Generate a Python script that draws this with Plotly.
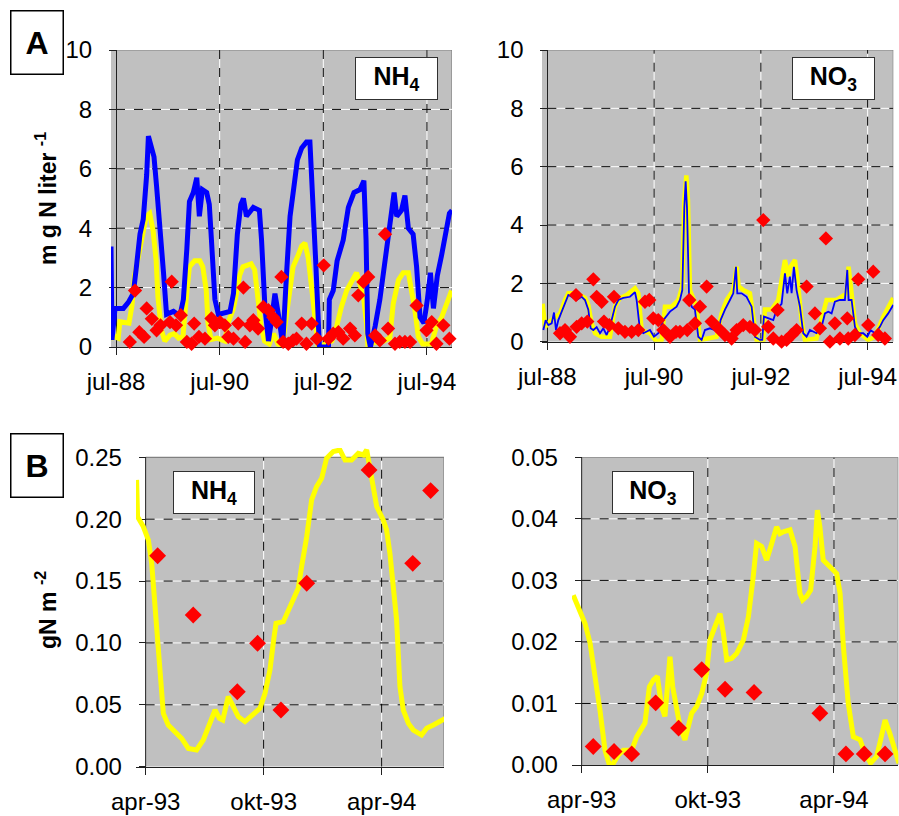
import plotly.graph_objects as go

# ---------------- Panel A : concentrations (x = months since jul-88) ----------------
A_XTICKS = [0, 24, 48, 72]
A_XLABELS = ["jul-88", "jul-90", "jul-92", "jul-94"]
A_YTICKS = [0, 2, 4, 6, 8, 10]

nh4_blue = [(-1.16, 3.38), (-0.93, 0.24), (-0.23, 1.3), (1.7, 1.3), (2.85, 1.5), (4.0, 1.8), (4.8, 2.8),
            (5.55, 3.8), (6.3, 4.3), (7.1, 5.8), (7.5, 7.1), (8.3, 6.6), (8.8, 6.4), (9.4, 5.4), (10.2, 4.1),
            (11.0, 2.5), (11.7, 1.1), (13.3, 1.2), (14.8, 1.05), (15.6, 1.6), (16.4, 3.3), (17.0, 4.9),
            (17.9, 5.2), (18.7, 5.7), (19.3, 4.4), (20.0, 5.3), (21.0, 5.2), (21.6, 4.8), (22.1, 3.6),
            (22.9, 1.6), (23.7, 1.1), (26.4, 1.2), (27.2, 1.8), (28.1, 3.8), (28.9, 4.8), (29.5, 5.0),
            (30.2, 4.4), (31.8, 4.7), (33.2, 4.6), (33.7, 3.6), (34.5, 1.3), (35.3, 0.2), (36.0, 0.9),
            (36.8, 1.8), (37.6, 1.1), (38.6, 0.1), (39.5, 2.5), (40.3, 4.4), (41.2, 5.4), (42.0, 6.3),
            (43.0, 6.7), (44.1, 6.9), (44.9, 6.9), (45.5, 5.4), (46.3, 2.7), (47.1, 0.0), (49.2, 0.0),
            (49.4, 1.6), (50.3, 1.9), (51.2, 2.9), (52.6, 3.6), (53.8, 4.7), (55.1, 5.2), (56.5, 5.3),
            (57.4, 5.6), (57.9, 3.6), (58.3, 0.45), (58.9, 0.0), (60.0, 0.7), (61.1, 1.6), (62.3, 2.9),
            (63.4, 4.0), (64.4, 5.2), (65.0, 4.4), (66.1, 4.6), (66.9, 5.1), (67.7, 4.0), (68.8, 3.8),
            (69.6, 2.7), (70.4, 1.0), (71.3, 0.8), (72.1, 1.6), (72.8, 2.5), (73.5, 1.3), (74.4, 2.4),
            (75.4, 3.1), (76.4, 4.0), (77.2, 4.5), (77.8, 4.6)]

nh4_yellow = [(-1.16, 0.3), (-0.3, 0.35), (0.5, 0.3), (0.9, 0.85), (3.0, 0.8), (3.7, 1.4), (4.3, 2.4),
              (5.9, 3.7), (7.0, 4.4), (7.8, 4.5), (8.6, 3.9), (9.3, 2.9), (9.7, 1.7), (10.5, 0.57),
              (11.3, 0.2), (12.5, 0.4), (13.5, 0.45), (14.5, 0.3), (15.5, 0.35), (16.3, 1.7), (17.0, 2.7),
              (18.2, 2.9), (19.4, 2.9), (20.1, 2.7), (20.9, 1.9), (21.3, 0.8), (22.0, 0.25), (23.5, 0.3),
              (25.2, 0.2), (25.9, 0.8), (27.1, 1.25), (27.9, 1.8), (28.6, 2.4), (29.4, 2.7), (31.3, 2.8),
              (32.1, 2.6), (32.9, 1.7), (33.6, 0.7), (34.4, 0.2), (35.5, 0.1), (36.5, 0.45), (37.5, 0.1),
              (38.5, 0.05), (39.5, 1.0), (40.3, 1.8), (41.0, 2.7), (42.2, 3.1), (43.0, 3.4), (43.75, 3.5),
              (44.5, 3.0), (45.3, 2.0), (46.1, 0.9), (46.8, 0.0), (48.5, 0.1), (50.0, 0.2), (51.1, 0.7),
              (52.2, 1.36), (53.4, 1.9), (54.6, 2.26), (55.7, 2.5), (56.5, 2.1), (57.3, 1.7), (58.0, 0.8),
              (58.3, 0.1), (60.0, 0.15), (62.0, 0.2), (63.4, 0.3), (64.2, 1.47), (65.4, 2.26), (66.5, 2.5),
              (67.7, 2.5), (68.4, 2.0), (69.2, 1.25), (70.0, 0.35), (71.0, 0.1), (73.0, 0.1), (74.2, 0.7),
              (75.4, 1.0), (76.5, 1.47), (77.7, 1.9)]

nh4_obs = [(3.2, 0.17), (4.4, 1.9), (5.4, 0.5), (6.5, 0.34), (7.1, 1.3), (8.3, 0.95), (9.4, 0.56),
           (10.3, 0.73), (12.9, 2.2), (12.5, 0.84), (13.9, 0.73), (15.0, 1.07), (16.4, 0.17), (17.5, 0.11),
           (18.1, 0.79), (19.2, 0.34), (20.6, 0.28), (22.1, 0.96), (22.9, 0.73), (24.1, 0.84), (25.2, 0.73),
           (26.0, 0.34), (27.2, 0.28), (28.3, 0.79), (29.5, 2.0), (29.9, 0.17), (31.0, 0.73), (31.8, 0.9),
           (32.9, 0.62), (34.1, 1.35), (35.3, 1.24), (36.4, 1.0), (37.2, 0.84), (38.3, 2.36), (38.7, 0.17),
           (39.9, 0.11), (41.0, 0.22), (41.8, 0.28), (43.0, 0.79), (44.1, 0.11), (45.3, 0.79), (46.5, 0.28),
           (48.1, 2.75), (49.2, 0.28), (50.3, 0.45), (51.5, 0.5), (52.6, 0.28), (54.2, 0.62), (55.3, 0.39),
           (56.1, 1.74), (57.3, 2.19), (58.4, 2.36), (60.0, 0.39), (61.1, 0.22), (62.3, 3.8), (63.0, 0.62),
           (64.6, 0.11), (65.7, 0.17), (66.9, 0.17), (68.1, 0.17), (69.6, 1.4), (71.9, 0.56), (73.1, 0.84),
           (74.2, 0.11), (75.8, 0.73), (77.2, 0.28)]

no3_blue = [(-0.9, 0.4), (-0.37, 0.74), (0.22, 0.57), (0.97, 0.63), (1.5, 1.0), (1.95, 0.4), (2.47, 0.74),
            (3.22, 1.03), (3.97, 1.3), (4.72, 1.6), (5.47, 1.54), (6.59, 1.43), (7.72, 1.54), (8.46, 1.43),
            (9.21, 1.1), (9.74, 0.46), (10.34, 0.4), (11.09, 0.5), (11.84, 0.29), (12.58, 0.46), (13.33, 0.23),
            (14.08, 0.51), (15.2, 1.2), (15.96, 1.43), (17.08, 1.5), (18.58, 1.54), (19.7, 1.7), (20.07, 1.43),
            (20.82, 0.4), (21.57, 0.29), (23.07, 0.4), (23.97, 0.17), (24.94, 0.29), (26.07, 0.74),
            (27.57, 1.03), (29.06, 1.2), (29.81, 1.43), (30.34, 1.77), (30.79, 4.6), (31.09, 5.5),
            (31.39, 4.6), (31.84, 1.66), (32.43, 1.2), (33.18, 1.1), (33.93, 0.17), (34.68, 0.06),
            (35.43, 0.4), (36.55, 0.46), (37.68, 0.4), (38.43, 0.29), (38.95, 0.74), (39.93, 1.1),
            (41.05, 1.43), (41.8, 1.66), (42.4, 2.57), (42.7, 1.66), (43.67, 1.66), (44.79, 1.54),
            (45.92, 1.2), (46.67, 0.17), (47.79, 0.06), (48.31, 0.06), (48.69, 0.86), (49.66, 0.8),
            (50.79, 0.74), (51.54, 1.1), (52.66, 1.3), (53.41, 2.34), (53.93, 1.66), (54.53, 2.23),
            (54.91, 1.66), (55.43, 2.57), (56.03, 1.77), (56.78, 1.2), (57.53, 0.29), (58.28, 0.17),
            (59.03, 0.4), (60.52, 0.29), (61.65, 0.51), (62.4, 0.97), (63.15, 1.03), (63.9, 0.97),
            (64.64, 1.37), (65.77, 1.43), (66.89, 1.43), (67.42, 2.46), (67.72, 1.43), (68.39, 1.43),
            (69.14, 0.51), (69.89, 0.29), (71.01, 0.29), (71.91, 0.17), (72.66, 0.4), (73.63, 0.29),
            (74.76, 0.51), (75.51, 0.74), (76.63, 0.97), (77.75, 1.26)]

no3_yellow = [(-1.05, 1.3), (-0.52, 0.5), (0.6, 0.7), (1.72, 0.86), (2.85, 0.97), (3.97, 1.43), (4.72, 1.66),
              (5.84, 1.66), (7.34, 1.6), (8.46, 1.5), (9.21, 1.26), (9.96, 0.63), (10.71, 0.29), (12.21, 0.17),
              (14.08, 0.17), (15.2, 1.2), (16.33, 1.5), (17.83, 1.6), (19.7, 1.83), (20.45, 1.66), (21.2, 0.4),
              (23.07, 0.29), (24.57, 0.0), (25.69, 0.06), (26.44, 1.2), (27.94, 1.2), (29.44, 1.43),
              (30.34, 1.9), (30.79, 4.86), (31.24, 5.7), (31.61, 4.86), (32.06, 1.77), (32.81, 1.43),
              (33.56, 1.2), (34.31, 0.06), (35.81, 0.11), (38.05, 0.17), (39.18, 0.97), (40.3, 1.43),
              (41.8, 1.77), (42.55, 2.57), (43.0, 1.9), (44.04, 1.77), (45.54, 1.66), (46.29, 0.74),
              (47.04, 0.06), (48.54, 0.0), (48.91, 1.1), (50.41, 1.1), (51.91, 1.43), (53.41, 2.8),
              (54.16, 2.23), (54.68, 2.57), (55.66, 2.8), (56.4, 1.9), (57.15, 0.74), (57.9, 0.06),
              (60.52, 0.11), (62.77, 1.43), (65.02, 1.43), (67.27, 1.66), (67.72, 2.57), (68.39, 1.66),
              (69.14, 0.63), (70.26, 0.29), (72.13, 0.06), (73.63, 0.17), (75.51, 0.86), (77.75, 1.5)]

no3_obs = [(2.85, 0.29), (3.97, 0.4), (5.09, 0.17), (6.44, 1.6), (6.59, 0.51), (7.72, 0.63), (8.99, 0.69),
           (10.34, 2.14), (11.09, 1.54), (12.21, 1.37), (12.73, 0.69), (13.93, 0.57), (14.98, 1.54),
           (15.96, 0.46), (17.45, 0.34), (18.95, 0.34), (20.45, 0.4), (21.95, 1.37), (22.92, 1.43),
           (23.82, 0.8), (24.94, 0.74), (26.07, 0.4), (27.57, 0.17), (28.91, 0.34), (29.81, 0.34),
           (31.46, 0.4), (31.91, 1.43), (33.18, 0.63), (34.31, 1.2), (35.81, 1.89), (36.93, 0.69),
           (38.43, 0.46), (39.93, 0.23), (41.42, 0.11), (42.55, 0.4), (44.04, 0.57), (45.54, 0.51),
           (46.67, 0.4), (48.54, 4.17), (49.66, 0.51), (50.79, 0.11), (51.76, 1.09), (52.66, 0.0),
           (53.78, 0.06), (54.91, 0.23), (56.03, 0.4), (58.28, 1.89), (60.15, 0.97), (61.27, 0.46),
           (62.62, 3.54), (63.52, 0.0), (64.64, 0.63), (65.77, 0.11), (67.42, 0.8), (67.64, 0.11),
           (69.14, 0.23), (69.89, 2.14), (72.13, 0.57), (73.26, 2.4), (74.38, 0.23), (75.88, 0.11)]

# ---------------- Panel B : pools (x = months since apr-93) ----------------
B_XTICKS = [0, 6, 12]
B_XLABELS = ["apr-93", "okt-93", "apr-94"]
B1_YTICKS = [0.0, 0.05, 0.10, 0.15, 0.20, 0.25]
B2_YTICKS = [0.0, 0.01, 0.02, 0.03, 0.04, 0.05]

b_nh4_yellow = [(-0.46, 0.2317), (-0.41, 0.202), (-0.12, 0.194), (0.14, 0.183), (0.31, 0.164), (0.47, 0.132),
                (0.64, 0.0916), (0.9, 0.0431), (1.15, 0.0337), (1.49, 0.0283), (1.83, 0.0229), (2.17, 0.0148),
                (2.59, 0.0135), (2.93, 0.0216), (3.19, 0.0323), (3.53, 0.0458), (3.75, 0.0391), (3.92, 0.0377),
                (4.2, 0.0566), (4.46, 0.0485), (4.71, 0.0404), (5.05, 0.0364), (5.47, 0.0418), (5.81, 0.0471),
                (6.07, 0.0593), (6.32, 0.0781), (6.53, 0.105), (6.63, 0.1158), (7.0, 0.1172), (7.34, 0.1293),
                (7.51, 0.1374), (7.76, 0.1441), (7.93, 0.1616), (8.19, 0.1859), (8.44, 0.2155), (8.69, 0.2263),
                (8.95, 0.233), (9.2, 0.2492), (9.54, 0.2546), (9.88, 0.2559), (10.14, 0.2478), (10.47, 0.2478),
                (10.81, 0.2532), (11.07, 0.2519), (11.24, 0.2559), (11.49, 0.2317), (11.75, 0.2101),
                (12.08, 0.1994), (12.25, 0.1913), (12.42, 0.1724), (12.59, 0.1455), (12.76, 0.1185),
                (12.93, 0.0647), (13.1, 0.0458), (13.36, 0.035), (13.61, 0.0296), (14.03, 0.0256),
                (14.29, 0.031), (14.63, 0.0337), (14.97, 0.0364), (15.22, 0.0391), (15.39, 0.0404)]

b_nh4_obs = [(0.61, 0.1705), (2.42, 0.1226), (4.66, 0.0606), (5.69, 0.0997), (6.88, 0.0458), (8.19, 0.1482),
             (11.36, 0.2398), (13.58, 0.1643), (14.49, 0.2231)]

b_no3_yellow = [(-0.40, 0.0276), (-0.08, 0.0252), (0.16, 0.0230), (0.40, 0.0198), (0.63, 0.0149), (0.87, 0.0089),
                (1.11, 0.0024), (1.32, 0.0), (1.51, 0.0003), (1.74, 0.0016), (1.98, 0.0024), (2.38, 0.0024),
                (2.62, 0.0046), (3.01, 0.0068), (3.22, 0.0127), (3.41, 0.0138), (3.60, 0.0144), (3.80, 0.0095),
                (3.96, 0.0079), (4.07, 0.0116), (4.20, 0.0176), (4.33, 0.0127), (4.52, 0.0089), (4.68, 0.0062),
                (4.91, 0.0041), (5.07, 0.0062), (5.23, 0.0084), (5.47, 0.0095), (5.71, 0.0116), (5.94, 0.0149),
                (6.10, 0.0203), (6.34, 0.0225), (6.58, 0.0246), (6.74, 0.0214), (6.90, 0.0171), (7.13, 0.0173),
                (7.37, 0.0181), (7.69, 0.0203), (7.93, 0.0241), (8.16, 0.0306), (8.32, 0.0360), (8.56, 0.0355),
                (8.80, 0.0333), (9.04, 0.0360), (9.27, 0.0387), (9.43, 0.0376), (9.59, 0.0379), (9.91, 0.0382),
                (10.15, 0.0355), (10.38, 0.0279), (10.51, 0.0268), (10.70, 0.0274), (10.89, 0.0284),
                (11.10, 0.0355), (11.21, 0.0414), (11.33, 0.0387), (11.49, 0.0333), (11.81, 0.0322),
                (12.13, 0.0311), (12.29, 0.0279), (12.45, 0.0192), (12.68, 0.0100), (12.92, 0.0046),
                (13.24, 0.0041), (13.47, 0.0019), (13.74, 0.0003), (14.03, 0.0014), (14.22, 0.0041),
                (14.43, 0.0073), (14.66, 0.0051), (14.90, 0.0024), (15.09, 0.0003)]

b_no3_obs = [(0.55, 0.0030), (1.54, 0.0022), (2.38, 0.0018), (3.52, 0.0101), (4.61, 0.0060), (5.71, 0.0155),
             (6.82, 0.0123), (8.20, 0.0118), (11.33, 0.0084), (12.57, 0.0018), (13.44, 0.0018), (14.43, 0.0018)]

# ---------------- styling ----------------
W, H = 899, 816
FONT = "Arial, 'Liberation Sans', sans-serif"
BLUE, YELLOW, RED = "#0000FF", "#FFFF00", "#FF0000"
GRAY, BORDER, AXC = "#C0C0C0", "#808080", "#202020"


def px(v):
    return v / W


def py(v):
    return 1 - v / H


def xy(pairs):
    return [p[0] for p in pairs], [p[1] for p in pairs]


fig = go.Figure()


def line(pairs, color, width, ax):
    x, y = xy(pairs)
    fig.add_trace(go.Scatter(x=x, y=y, mode="lines", line=dict(color=color, width=width),
                             xaxis="x" + ax, yaxis="y" + ax, hoverinfo="skip", showlegend=False))


def dots(pairs, size, ax):
    x, y = xy(pairs)
    fig.add_trace(go.Scatter(x=x, y=y, mode="markers",
                             marker=dict(symbol="diamond", size=size, color=RED, line=dict(width=0)),
                             xaxis="x" + ax, yaxis="y" + ax, hoverinfo="skip", showlegend=False,
                             cliponaxis=False))


line(nh4_yellow, YELLOW, 5, "")
line(nh4_blue, BLUE, 5, "")
dots(nh4_obs, 11, "")
line(no3_yellow, YELLOW, 4.5, "2")
line(no3_blue, BLUE, 1.8, "2")
dots(no3_obs, 11, "2")
line(b_nh4_yellow, YELLOW, 5, "3")
dots(b_nh4_obs, 13, "3")
line(b_no3_yellow, YELLOW, 5, "4")
dots(b_no3_obs, 13, "4")

# panel geometry (pixels)
A1 = dict(x0=111.0, x1=452.0, axis=116.0, top=50.0, bot=347.0, rng=[-1.16, 77.8], yr=[0, 10])
A2 = dict(x0=542.0, x1=893.3, axis=547.3, top=50.0, bot=341.7, rng=[-1.2, 77.77], yr=[0, 10])
B1 = dict(x0=136.0, x1=444.0, axis=145.7, top=448.0, bot=766.7, rng=[-0.49, 15.17], yr=[0, 0.2575])
B2 = dict(x0=572.0, x1=898.3, axis=581.7, top=457.3, bot=765.0, rng=[-0.46, 15.06], yr=[0, 0.05])

tickfont = dict(family=FONT, size=24, color="black")


def axes(key, g, xticks, xlabels, yticks, yfmt, yline):
    fig.layout["xaxis" + key] = dict(
        domain=[px(g["x0"]), px(g["x1"])], range=g["rng"], anchor="y" + key, automargin=False,
        tickmode="array", tickvals=xticks, ticktext=xlabels, ticks="outside", ticklen=7,
        tickcolor=AXC, showline=True, linecolor=AXC, linewidth=1, showgrid=False, zeroline=False,
        tickfont=tickfont, layer="below traces", fixedrange=True, ticklabelstandoff=6)
    fig.layout["yaxis" + key] = dict(
        domain=[py(g["bot"]), py(g["top"])], range=g["yr"], anchor="free", position=px(g["axis"]),
        automargin=False,
        tickmode="array", tickvals=yticks, tickformat=yfmt, ticks="outside", ticklen=7,
        tickcolor=AXC, showline=yline, linecolor=AXC, linewidth=1, showgrid=False, zeroline=False,
        tickfont=tickfont, layer="below traces", fixedrange=True, ticklabelstandoff=12)


axes("", A1, A_XTICKS, A_XLABELS, A_YTICKS, "d", True)
axes("2", A2, A_XTICKS, A_XLABELS, A_YTICKS, "d", True)
axes("3", B1, B_XTICKS, B_XLABELS, B1_YTICKS, ".2f", False)
axes("4", B2, B_XTICKS, B_XLABELS, B2_YTICKS, ".2f", False)

shapes = []


def panel_shapes(key, xa, xb, ya, yb, xticks, yticks, yaxis_line):
    xr, yr = "x" + key, "y" + key
    shapes.append(dict(type="rect", xref=xr, yref=yr, x0=xa, x1=xb, y0=ya, y1=yb,
                       fillcolor=GRAY, line=dict(width=0), layer="below"))
    # top and right frame
    shapes.append(dict(type="line", xref=xr, yref=yr, x0=xa, x1=xb, y0=yb, y1=yb,
                       line=dict(color=BORDER, width=1.2), layer="below"))
    shapes.append(dict(type="line", xref=xr, yref=yr, x0=xb, x1=xb, y0=ya, y1=yb,
                       line=dict(color=BORDER, width=1.2), layer="below"))
    inner_y = [v for v in yticks if ya < v < yb]
    inner_x = [v for v in xticks if xa < v < xb and v != 0]
    for color, dash in (("white", "solid"), ("black", "dash")):
        for v in inner_y:
            shapes.append(dict(type="line", xref=xr, yref=yr, x0=max(xa, 0), x1=xb, y0=v, y1=v,
                               line=dict(color=color, width=1, dash=dash), layer="below"))
        for v in inner_x:
            shapes.append(dict(type="line", xref=xr, yref=yr, x0=v, x1=v, y0=ya, y1=yb,
                               line=dict(color=color, width=1, dash=dash), layer="below"))
    if yaxis_line:
        shapes.append(dict(type="line", xref=xr, yref=yr, x0=0, x1=0, y0=ya, y1=yb,
                           line=dict(color=AXC, width=1), layer="below"))


panel_shapes("", A1["rng"][0], A1["rng"][1], 0, 10, A_XTICKS, A_YTICKS, False)
panel_shapes("2", A2["rng"][0], A2["rng"][1], 0, 10, A_XTICKS, A_YTICKS, False)
panel_shapes("3", 0, B1["rng"][1], 0, 0.25, B_XTICKS, B1_YTICKS, True)
panel_shapes("4", 0, B2["rng"][1], 0, 0.05, B_XTICKS, B2_YTICKS, True)

annotations = []


def box(text, cx, cy, w, h, size, bw=1, bc="#303030"):
    annotations.append(dict(text=text, xref="paper", yref="paper", x=px(cx), y=py(cy),
                            xanchor="center", yanchor="middle", showarrow=False,
                            font=dict(family=FONT, size=size, color="black"),
                            bgcolor="white", bordercolor=bc, borderwidth=bw, borderpad=0,
                            width=w, height=h, align="center", valign="middle"))


box("<b>A</b>", 36.5, 42.5, 51, 62, 32, bw=1.5, bc="black")
box("<b>B</b>", 36.5, 465.5, 51, 62, 32, bw=1.5, bc="black")
box("<b>NH<sub>4</sub></b>", 396.5, 78.5, 81, 41, 25)
box("<b>NO<sub>3</sub></b>", 833.5, 78.0, 81, 41, 25)
box("<b>NH<sub>4</sub></b>", 214.0, 492.5, 80, 41, 25)
box("<b>NO<sub>3</sub></b>", 652.5, 492.5, 80, 41, 25)


def ytitle(text, cx, cy):
    annotations.append(dict(text=text, xref="paper", yref="paper", x=px(cx), y=py(cy),
                            xanchor="center", yanchor="middle", showarrow=False, textangle=-90,
                            font=dict(family=FONT, size=23, color="black")))


ytitle("<b>m g N liter <sup>-1</sup></b>", 46, 199)
ytitle("<b>gN m <sup>-2</sup></b>", 46, 610)

fig.update_layout(width=W, height=H, margin=dict(l=0, r=0, t=0, b=0, pad=0, autoexpand=False),
                  paper_bgcolor="white", plot_bgcolor="rgba(0,0,0,0)",
                  shapes=shapes, annotations=annotations, showlegend=False,
                  font=dict(family=FONT, color="black"))

fig.write_html("out.html", config={"displayModeBar": False},
               post_script="document.body.style.margin='0px';")
